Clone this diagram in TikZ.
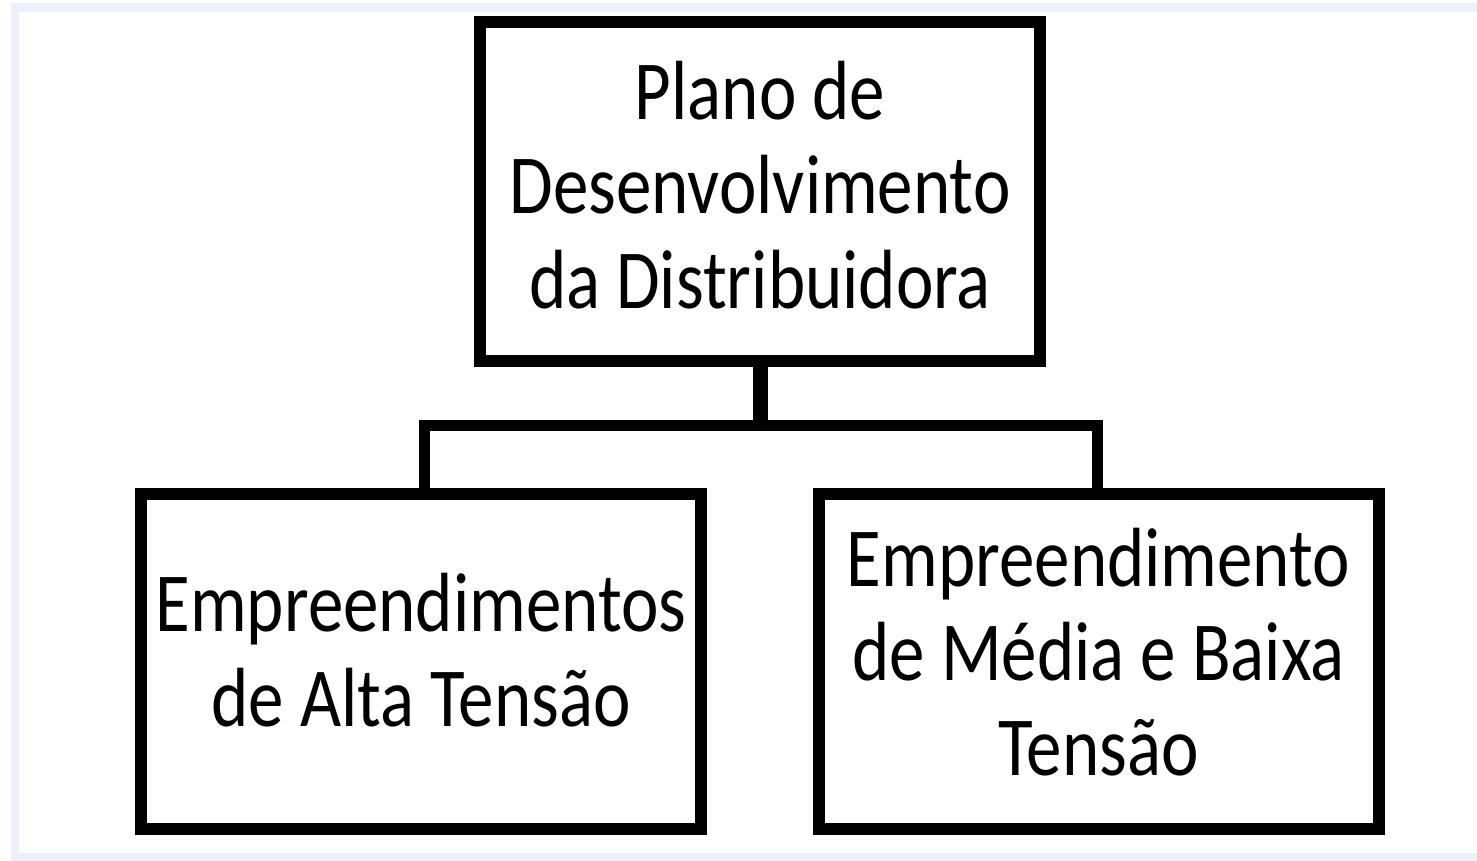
\documentclass[tikz,border=0pt]{standalone}
\usepackage{fontspec}
\setmainfont{Carlito}[FakeStretch=0.845]
\definecolor{framebg}{HTML}{ECF1F9}
\begin{document}
\begin{tikzpicture}[x=1pt,y=-1pt,
  box/.style={draw=black, line width=12pt, fill=white, minimum width=560pt,
    align=center, inner sep=0pt, text depth=0pt,
    font=\fontsize{84}{94.5}\selectfont},
  link/.style={line width=11pt, line join=miter, line cap=butt}]
\useasboundingbox (0,0) rectangle (1477,861);
\fill[white] (0,0) rectangle (1477,861);
\fill[framebg] (11,3) rectangle (1477,861);
\fill[white] (19,12) rectangle (1477,853);
\node[box, minimum height=339pt, text height=233pt] (top) at (760,191.5)
  {Plano de\\Desenvolvimento\\da Distribuidora};
\node[box, minimum height=335pt, text height=129pt] (left) at (421,661.5)
  {Empreendimentos\\de Alta Tensão};
\node[box, minimum height=335pt, text height=227pt] (right) at (1098.5,661.5)
  {Empreendimento\\de Média e Baixa\\Tensão};
\coordinate (j) at (760,425);
\draw[link, line width=15pt] (top.south) -- (j);
\draw[link] ([xshift=3pt]left.north) -- ([xshift=3pt]left.north |- j)
  -- ([xshift=-1.5pt]right.north |- j) -- ([xshift=-1.5pt]right.north);
\end{tikzpicture}
\end{document}
